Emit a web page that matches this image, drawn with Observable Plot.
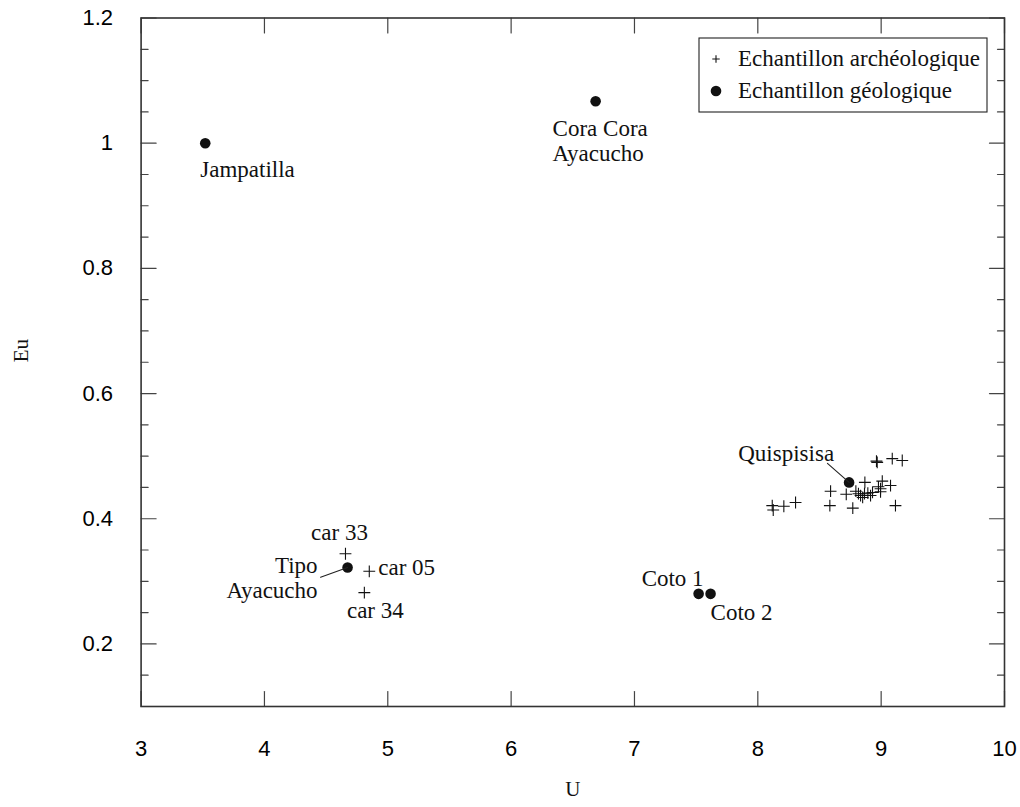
<!DOCTYPE html>
<html>
<head>
<meta charset="utf-8">
<script src="https://cdn.jsdelivr.net/npm/d3@7"></script>
<script src="https://cdn.jsdelivr.net/npm/@observablehq/plot@0.6"></script>
<style>
  html, body { margin: 0; padding: 0; background: #fff; }
  #chart { width: 1020px; height: 807px; }
</style>
</head>
<body>
<div id="chart"></div>
<script>
// ---------- data ----------
const xTicks = [3, 4, 5, 6, 7, 8, 9, 10];
const xTickLabels = ["3", "4", "5", "6", "7", "8", "9", "10"];
const yTicks = [0.2, 0.4, 0.6, 0.8, 1.0, 1.2];
const yTickLabels = ["0.2", "0.4", "0.6", "0.8", "1", "1.2"];
const yMinorTicks = [0.15, 0.25, 0.3, 0.35, 0.45, 0.5, 0.55, 0.65, 0.7, 0.75, 0.85, 0.9, 0.95, 1.05, 1.1, 1.15];

const legendLabels = ["Echantillon archéologique", "Echantillon géologique"];

// geological samples (filled dots)
const geoNames = ["Jampatilla", "Cora Cora Ayacucho", "Quispisisa", "Coto 1", "Coto 2", "Tipo Ayacucho"];
const geoU  = [3.52, 6.685, 8.74, 7.52, 7.617, 4.674];
const geoEu = [1.0, 1.067, 0.458, 0.280, 0.280, 0.322];

// archaeological samples (crosses)
const archNames = ["car 33", "car 05", "car 34"];
const archNamedU  = [4.657, 4.85, 4.81];
const archNamedEu = [0.344, 0.316, 0.282];
const archClusterU  = [8.117, 8.125, 8.211, 8.306, 8.59, 8.584, 8.77, 8.717, 8.868, 8.962, 8.968, 9.09, 9.171,
                       9.009, 9.076, 8.995, 9.116, 8.995, 8.795, 8.833, 8.865, 8.892, 8.85, 8.914, 8.816, 8.93, 8.978];
const archClusterEu = [0.421, 0.414, 0.420, 0.426, 0.444, 0.421, 0.417, 0.439, 0.458, 0.492, 0.490, 0.496, 0.493,
                       0.460, 0.453, 0.448, 0.421, 0.443, 0.444, 0.437, 0.440, 0.441, 0.434, 0.437, 0.440, 0.442, 0.451];

// ---------- build tables ----------
const geo = geoNames.map((n, i) => ({name: n, U: geoU[i], Eu: geoEu[i]}));
const archNamed = archNames.map((n, i) => ({name: n, U: archNamedU[i], Eu: archNamedEu[i]}));
const arch = archNamed.concat(archClusterU.map((u, i) => ({name: "", U: u, Eu: archClusterEu[i]})));
const geoBy = Object.fromEntries(geo.map(d => [d.name, d]));
const archBy = Object.fromEntries(archNamed.map(d => [d.name, d]));

const serif = "'Liberation Serif', 'Times New Roman', Times, serif";
const sans = "'Liberation Sans', Arial, Helvetica, sans-serif";
const lineShape = {draw(ctx, l) { ctx.moveTo(0, 0); ctx.lineTo(0, -l); }};
const labelSize = 23;

// annotation labels: text, anchor point, placement style
const annotations = [
  {text: "Jampatilla", p: geoBy["Jampatilla"], anchor: "start", dx: -5, dy: 26},
  {text: "Cora Cora", p: geoBy["Cora Cora Ayacucho"], anchor: "start", dx: -43, dy: 27},
  {text: "Ayacucho", p: geoBy["Cora Cora Ayacucho"], anchor: "start", dx: -43, dy: 52},
  {text: "Quispisisa", p: geoBy["Quispisisa"], anchor: "end", dx: -15, dy: -29},
  {text: "Coto 1", p: geoBy["Coto 1"], anchor: "end", dx: 5, dy: -15},
  {text: "Coto 2", p: geoBy["Coto 2"], anchor: "start", dx: 0, dy: 19},
  {text: "Tipo", p: geoBy["Tipo Ayacucho"], anchor: "end", dx: -30, dy: -2},
  {text: "Ayacucho", p: geoBy["Tipo Ayacucho"], anchor: "end", dx: -30, dy: 23},
  {text: "car 33", p: archBy["car 33"], anchor: "middle", dx: -6, dy: -21},
  {text: "car 05", p: archBy["car 05"], anchor: "start", dx: 9, dy: -4},
  {text: "car 34", p: archBy["car 34"], anchor: "middle", dx: 11, dy: 18}
];
const leaders = [
  {p: geoBy["Quispisisa"], angle: -48.7, len: 28.8},
  {p: geoBy["Tipo Ayacucho"], angle: -109.8, len: 28.7}
];

const tickStroke = "#444";
function ticks(data, ch, frameAnchor, rotate, length) {
  return Plot.vector(data, {[ch]: d => d, frameAnchor, rotate, length, anchor: "start",
    shape: lineShape, stroke: tickStroke, strokeWidth: 1.2});
}

const plot = Plot.plot({
  width: 1020, height: 807,
  marginLeft: 140.6, marginRight: 16, marginTop: 17.5, marginBottom: 101,
  style: {background: "#fff", color: "#000", overflow: "visible"},
  x: {domain: [3, 10]},
  y: {domain: [0.1, 1.2]},
  length: {type: "identity"},
  marks: [
    Plot.axisX({ticks: xTicks, tickSize: 0, tickPadding: 34, fontSize: 22, fontFamily: sans, label: null,
                tickFormat: d => xTickLabels[xTicks.indexOf(d)]}),
    Plot.axisY({ticks: yTicks, tickSize: 0, tickPadding: 28, fontSize: 22, fontFamily: sans, label: null,
                tickFormat: d => yTickLabels[yTicks.indexOf(d)]}),
    ticks(xTicks, "x", "bottom", 0, 15),
    ticks(xTicks, "x", "top", 180, 15),
    ticks(yTicks, "y", "left", 90, 15),
    ticks(yTicks, "y", "right", -90, 15),
    ticks(yMinorTicks, "y", "left", 90, 7),
    ticks(yMinorTicks, "y", "right", -90, 7),
    Plot.frame({stroke: "#333", strokeWidth: 1.6}),
    Plot.dot(arch, {x: "U", y: "Eu", symbol: "plus", r: 3.9, fill: "none", stroke: "#111", strokeWidth: 1.1}),
    Plot.dot(geo, {x: "U", y: "Eu", r: 5.3, fill: "#111", stroke: "none"}),
    Plot.vector(leaders, {x: d => d.p.U, y: d => d.p.Eu, rotate: "angle", length: "len", anchor: "start",
      shape: lineShape, stroke: "#222", strokeWidth: 1.1}),
    ...annotations.map(a => Plot.text([a], {x: d => d.p.U, y: d => d.p.Eu, text: "text",
      textAnchor: a.anchor, dx: a.dx, dy: a.dy, fontSize: labelSize, fontFamily: serif, fill: "#111"})),
    Plot.text(["U"], {frameAnchor: "bottom", text: d => d, dy: 89, fontSize: 21, fontFamily: serif, fill: "#111"}),
    Plot.text(["Eu"], {frameAnchor: "left", text: d => d, dx: -120, rotate: -90, fontSize: 21, fontFamily: serif, fill: "#111"})
  ]
});

// ---------- legend (inside the frame, top right) ----------
const svg = d3.select(plot);
const xr = plot.scale("x").range, yr = plot.scale("y").range;
const frameRight = Math.max(...xr), frameTop = Math.min(...yr);
const boxW = 288, boxH = 74;
const bx = frameRight - 17 - boxW, by = frameTop + 20.5;
const lg = svg.append("g").attr("class", "legend").attr("text-anchor", "start");
lg.append("rect").attr("x", bx).attr("y", by).attr("width", boxW).attr("height", boxH)
  .attr("fill", "#fff").attr("stroke", "#222").attr("stroke-width", 1.1);
const legendSymbols = [d3.symbolPlus, d3.symbolCircle];
legendLabels.forEach((lab, i) => {
  const cy = by + 21 + i * 32;
  lg.append("path")
    .attr("transform", `translate(${bx + 17},${cy})`)
    .attr("d", d3.symbol(legendSymbols[i], i === 0 ? 20 : Math.PI * 5.3 * 5.3)())
    .attr("fill", i === 0 ? "none" : "#111")
    .attr("stroke", i === 0 ? "#111" : "none")
    .attr("stroke-width", 1.1);
  lg.append("text").attr("x", bx + 39).attr("y", cy).attr("dy", "0.32em")
    .attr("text-anchor", "start")
    .attr("font-family", serif).attr("font-size", labelSize).attr("fill", "#111").text(lab);
});

document.getElementById("chart").appendChild(plot);
</script>
</body>
</html>
